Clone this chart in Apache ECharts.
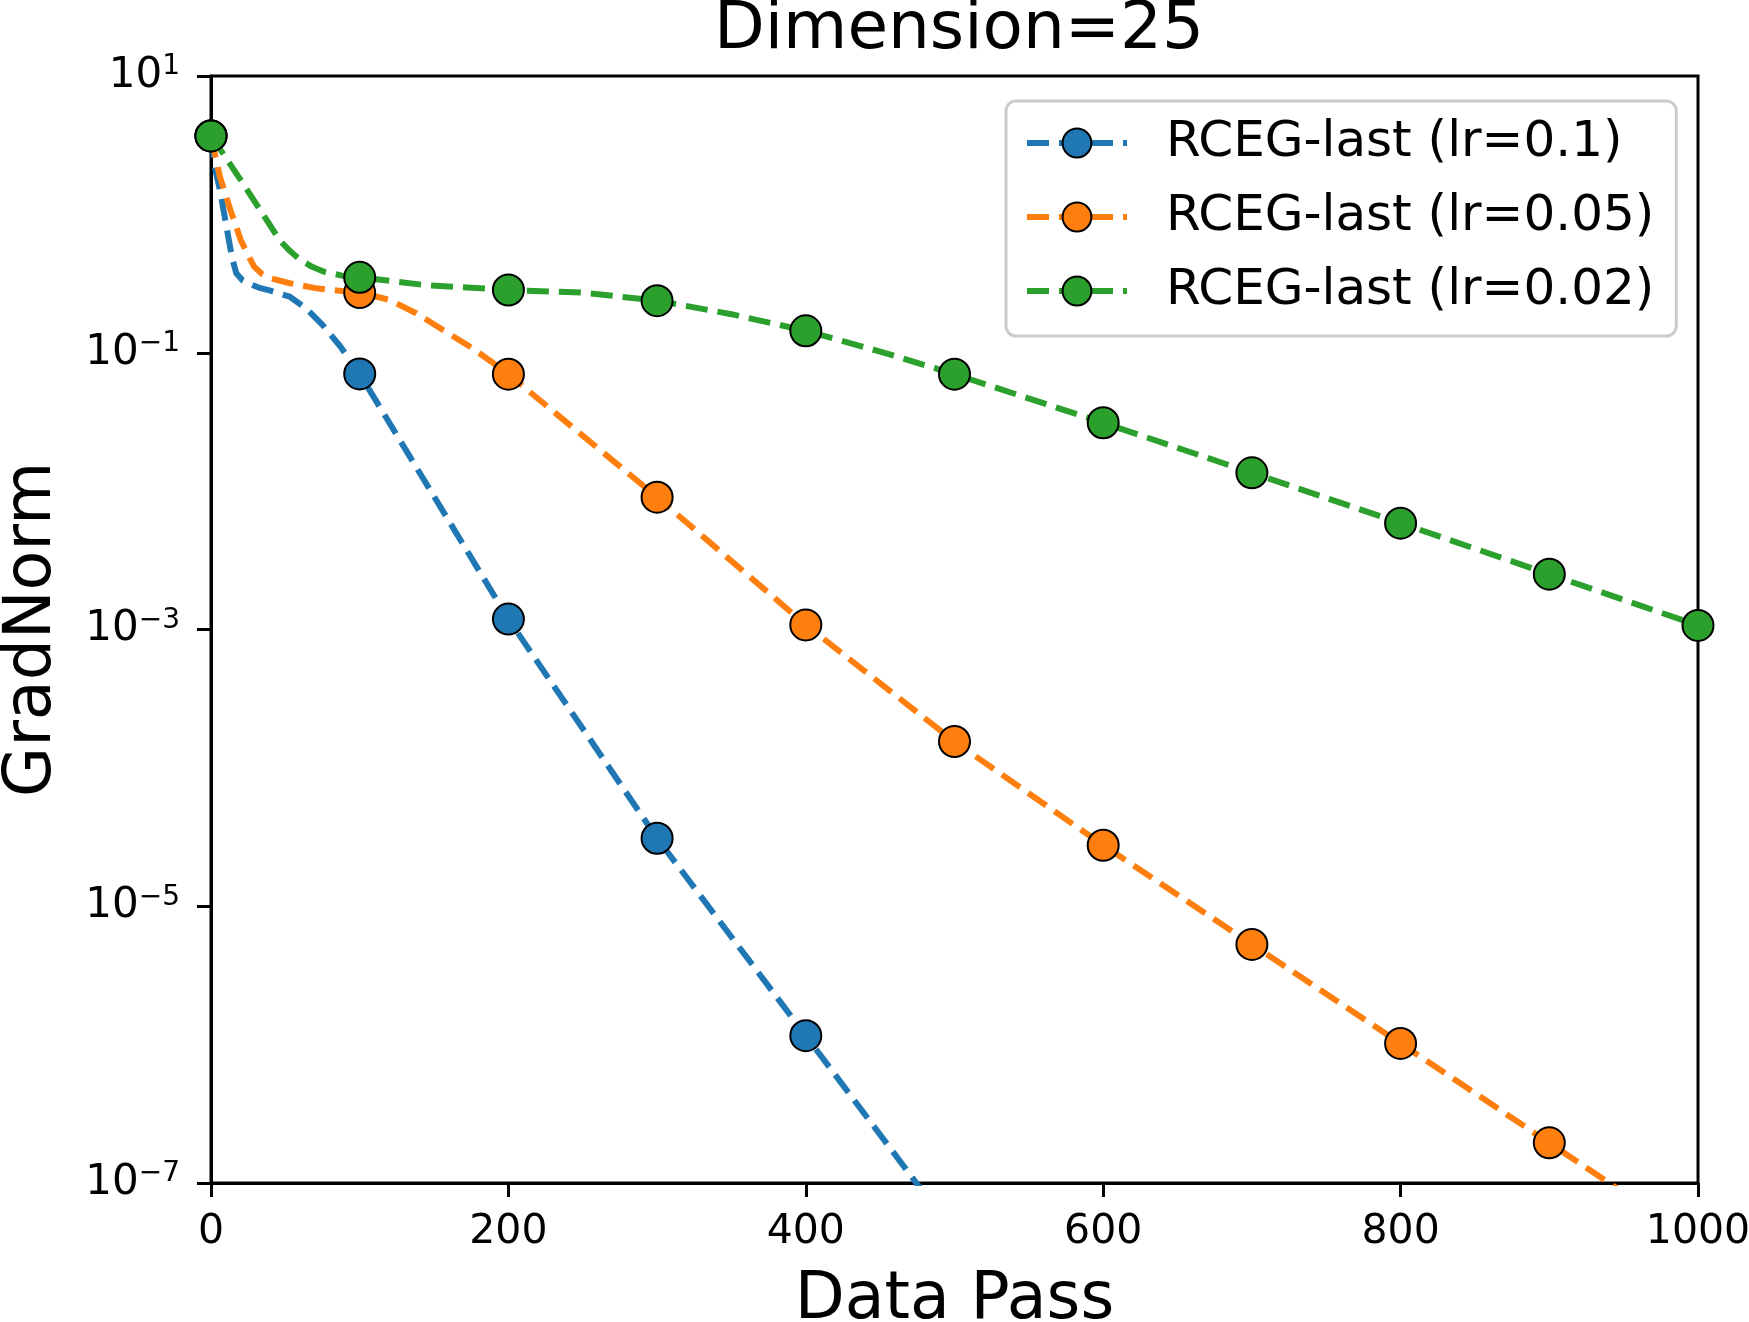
<!DOCTYPE html>
<html>
<head>
<meta charset="utf-8">
<script src="https://cdn.jsdelivr.net/npm/echarts@6/dist/echarts.min.js"></script>
<style>
html,body{margin:0;padding:0;background:#fff;}
#chart{width:1749px;height:1322px;}
</style>
</head>
<body>
<div id="chart"></div>
<script>
// ---- data ----
const titleText = 'Dimension=25';
const xName = 'Data Pass';
const yName = 'GradNorm';
const seriesNames = ['RCEG-last (lr=0.1)', 'RCEG-last (lr=0.05)', 'RCEG-last (lr=0.02)'];
const seriesColors = ['#1f77b4', '#ff7f0e', '#2ca02c'];
const xTicks = [0, 200, 400, 600, 800, 1000];

const blueX = [0, 3, 6, 10, 14, 17, 21, 25, 32, 40, 53, 64, 75, 87, 100, 200, 300, 400, 480];
const blueY = [3.69, 2.09, 1.50, 0.863, 0.495, 0.375, 0.335, 0.318, 0.296, 0.281, 0.254, 0.209, 0.159, 0.111, 0.0703, 1.19e-3, 3.10e-5, 1.16e-6, 8.3e-8];

const orangeX = [0, 6, 13, 20, 25, 29, 34, 40, 53, 71, 91, 100, 120, 138, 156, 174, 190, 200, 300, 400, 500, 600, 700, 800, 900, 1000];
const orangeY = [3.69, 1.87, 1.08, 0.653, 0.505, 0.419, 0.373, 0.345, 0.318, 0.292, 0.277, 0.272, 0.241, 0.193, 0.146, 0.111, 0.0839, 0.0700, 9.04e-3, 1.08e-3, 1.55e-4, 2.76e-5, 5.30e-6, 1.02e-6, 1.95e-7, 3.7e-8];

const greenX = [0, 8, 20, 33, 46, 53, 60, 68, 76, 89, 100, 143, 200, 250, 300, 350, 400, 450, 500, 600, 700, 800, 900, 1000];
const greenY = [3.69, 2.76, 1.77, 1.08, 0.653, 0.545, 0.469, 0.418, 0.385, 0.359, 0.351, 0.309, 0.284, 0.272, 0.238, 0.190, 0.144, 0.102, 0.0700, 0.0312, 0.01355, 5.87e-3, 2.51e-3, 1.07e-3];

const markerEvery = 100;
// --------------------------------------

const FONT = 'DejaVu Sans';
const DASH = [22, 10];

function buildData(xs, ys) {
  return xs.map((x, i) => (x % markerEvery === 0)
    ? { value: [x, ys[i]] }
    : { value: [x, ys[i]], symbol: 'none' });
}

const allX = [blueX, orangeX, greenX];
const allY = [blueY, orangeY, greenY];

const series = seriesNames.map((name, k) => ({
  name: name,
  type: 'line',
  data: buildData(allX[k], allY[k]),
  symbol: 'circle',
  symbolSize: 31,
  showAllSymbol: true,
  clip: true,
  z: 2 + k,
  lineStyle: { color: seriesColors[k], width: 6, type: DASH, join: 'round' },
  itemStyle: { color: seriesColors[k], borderColor: '#000', borderWidth: 2 },
  emphasis: { disabled: true },
  animation: false
}));

function supLabel(v) {
  const e = Math.round(Math.log10(v));
  const s = (e < 0 ? '\u2212' + (-e) : '' + e);
  return '{b|10}{s|' + s + '}';
}

const chart = echarts.init(document.getElementById('chart'), null, { renderer: 'canvas' });
chart.setOption({
  backgroundColor: '#ffffff',
  animation: false,
  title: {
    text: titleText,
    left: 954,
    top: -7,
    textAlign: 'center',
    textStyle: { fontFamily: FONT, fontSize: 66, fontWeight: 'normal', color: '#000' }
  },
  grid: {
    left: 211, right: 51, top: 76, bottom: 139,
    containLabel: false,
    outerBoundsMode: 'none',
    show: true, borderColor: '#000', borderWidth: 3, backgroundColor: 'transparent'
  },
  legend: {
    orient: 'vertical',
    left: 1006,
    top: 101,
    padding: [17, 22, 20, 18],
    itemGap: 24,
    itemWidth: 100,
    itemHeight: 36,
    selectedMode: false,
    backgroundColor: 'rgba(255,255,255,0.8)',
    borderColor: '#cccccc',
    borderWidth: 3,
    borderRadius: 10,
    data: seriesNames,
    lineStyle: { width: 6, type: DASH },
    textStyle: { fontFamily: FONT, fontSize: 50, lineHeight: 50, color: '#000', padding: [0, 0, 0, 34] }
  },
  xAxis: {
    type: 'value',
    min: xTicks[0],
    max: xTicks[xTicks.length - 1],
    interval: xTicks[1] - xTicks[0],
    name: xName,
    nameLocation: 'middle',
    nameGap: 86,
    nameTextStyle: { fontFamily: FONT, fontSize: 65, color: '#000' },
    axisLine: { show: true, lineStyle: { color: '#000', width: 3 } },
    axisTick: { show: true, inside: false, length: 14, lineStyle: { color: '#000', width: 3 } },
    axisLabel: { fontFamily: FONT, fontSize: 41, color: '#000', margin: 29, formatter: v => String(v) },
    splitLine: { show: false }
  },
  yAxis: {
    type: 'log',
    logBase: 10,
    min: 1e-7,
    max: 10,
    interval: 2,
    name: yName,
    nameLocation: 'middle',
    nameGap: 145,
    nameTextStyle: { fontFamily: FONT, fontSize: 65, color: '#000' },
    axisLine: { show: true, lineStyle: { color: '#000', width: 3 } },
    axisTick: { show: true, inside: false, length: 14, lineStyle: { color: '#000', width: 3 } },
    axisLabel: {
      margin: 31,
      fontFamily: FONT,
      fontSize: 42,
      formatter: supLabel,
      rich: {
        b: { fontFamily: FONT, fontSize: 42, color: '#000', lineHeight: 46, verticalAlign: 'middle' },
        s: { fontFamily: FONT, fontSize: 28, color: '#000', lineHeight: 30, verticalAlign: 'top' }
      }
    },
    splitLine: { show: false },
    minorTick: { show: false }
  },
  series: series
});
</script>
</body>
</html>
